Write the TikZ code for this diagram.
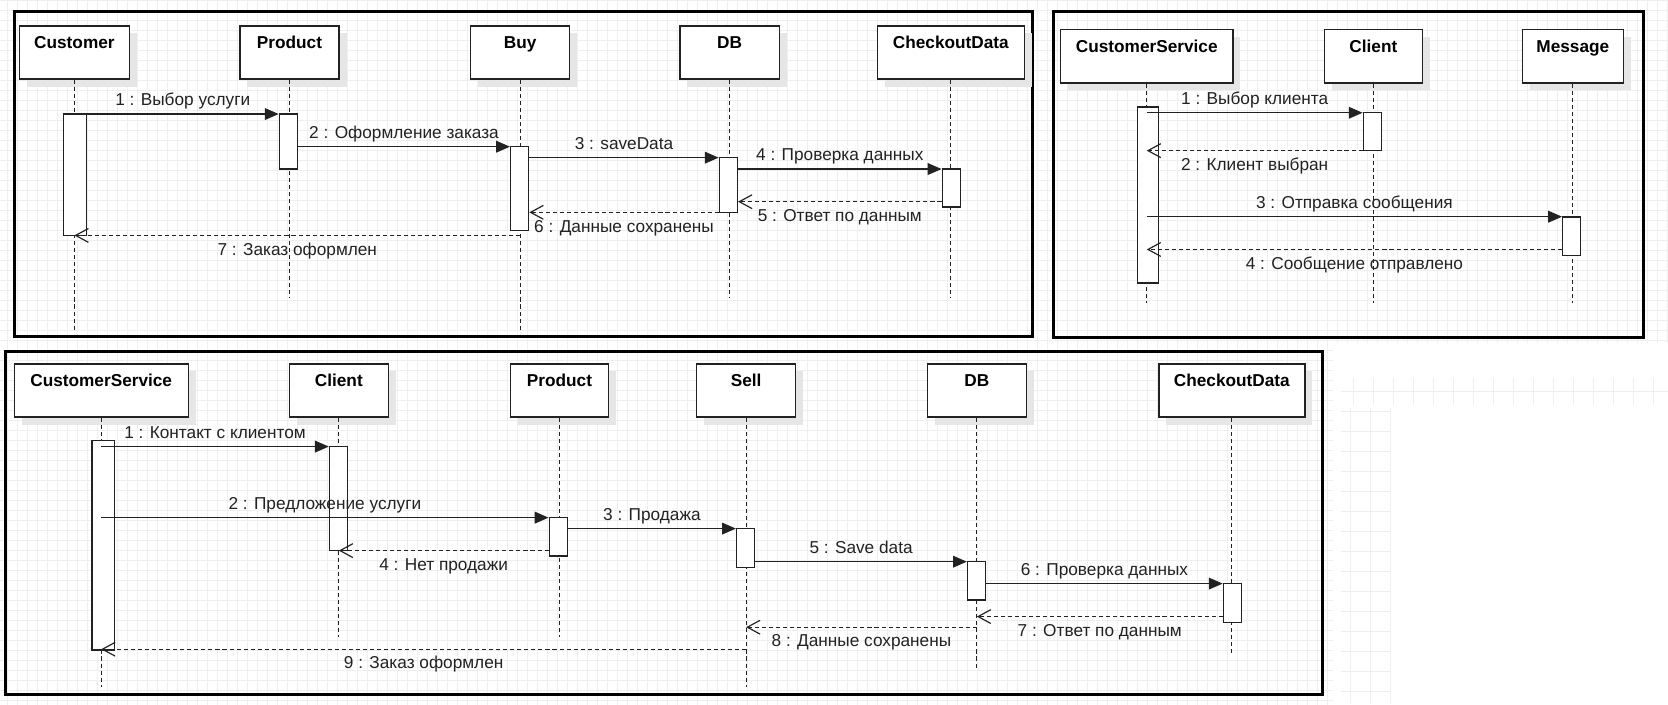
\documentclass[tikz,border=0pt]{standalone}
\usepackage{fontspec}
\setmainfont{Liberation Sans}
\usetikzlibrary{arrows.meta}
\definecolor{gridc}{HTML}{EFEFEF}
\definecolor{shadowc}{HTML}{E6E6E6}
\definecolor{ink}{HTML}{222222}
\begin{document}
\begin{tikzpicture}[x=1pt,y=-1pt,
  frame/.style={draw=black, line width=2.8pt},
  head/.style={draw=ink, line width=1.25pt, fill=white, inner sep=0pt, minimum height=50pt},
  title/.style={font=\fontsize{16.2}{19}\selectfont\bfseries, text=black, inner sep=0pt, anchor=base},
  act/.style={draw=ink, line width=1.25pt, fill=white, inner sep=0pt},
  life/.style={draw=ink, line width=1pt, dash pattern=on 3.8pt off 2.8pt},
  msg/.style={draw=ink, line width=1.25pt, -{Triangle[length=13pt,width=11pt]}},
  ret/.style={draw=ink, line width=1.1pt, dash pattern=on 3.8pt off 2.8pt, -{Straight Barb[length=12pt,width=13pt,line width=1.1pt]}},
  lbl/.style={font=\fontsize{16.2}{19}\selectfont, text=ink, inner sep=0pt, anchor=base},
  up/.style={lbl, midway, yshift=8pt},
  down/.style={lbl, midway, yshift=-18.5pt},
  gridline/.style={draw=gridc, line width=0.5pt},
]
\newcommand\lhead[6]{%
  \pgfmathsetmacro\hw{#3-#2}%
  \pgfmathsetmacro\hc{(#2+#3)/2}%
  \fill[shadowc] (#2+7,#4+7) rectangle (#3+7,#4+57);
  \node[head, minimum width=\hw pt] (#1) at (\hc,#4+25) {};
  \node[title] (#1-t) at (\hc,#4+21.6) {#5};
  \coordinate (#1-e) at (\hc,#6);
  \draw[life] (#1.south) -- (#1-e);
}
\newcommand\actb[5]{%
  \pgfmathsetmacro\ah{#4-#3}%
  \node[act, minimum width=#5pt, minimum height=\ah pt] (#1) at (#2,{(#3+#4)/2}) {};
}
\useasboundingbox (0,0) rectangle (1568,662);
\fill[white] (0,0) rectangle (1568,662);
% background grid
\begin{scope}
\clip (0,322) rectangle (1568,0);
\draw[gridline, step=9.4pt, xshift=7.3pt] (-10,330) grid (1568,0);
\end{scope}
\begin{scope}
\clip (0,662) rectangle (1253,322);
\draw[gridline, step=9.4pt, xshift=7.3pt] (-10,670) grid (1253,322);
\end{scope}
\foreach \gx in {1269,1288,1307} \draw[gridline] (\gx,384) -- (\gx,662);
\foreach \gy in {387,405.8,...,662} \draw[gridline] (1261,\gy) -- (1307,\gy);
\draw[gridline] (1261,367.6) -- (1568,367.6);
\foreach \gk in {0,...,15} \draw[gridline] (1272+18.8*\gk,355) -- (1272+18.8*\gk,381);
% frames
\draw[frame] (14,10.5) rectangle (970.8,316.5);
\draw[frame] (990,10.5) rectangle (1545,317.4);
\draw[frame] (5,330.5) rectangle (1242.9,653.3);

% ===== Frame 1 =====
\lhead{cu}{18.4}{121.5}{24.4}{Customer}{312}
\lhead{pr}{225.5}{318.8}{24.4}{Product}{280.4}
\lhead{bu}{442.5}{535.5}{24.4}{Buy}{312}
\lhead{db}{639.1}{732.5}{24.4}{DB}{280.4}
\lhead{co}{824.7}{963}{24.4}{CheckoutData}{280.4}
\actb{cu-a}{70.5}{107.2}{221.3}{21}
\actb{pr-a}{271.1}{107.2}{158.9}{17}
\actb{bu-a}{488.5}{137.9}{216.9}{17}
\actb{db-a}{684.7}{148.2}{199.6}{17}
\actb{co-a}{894.2}{158.9}{194.6}{17}
\draw[msg] (cu-a.east |- 0,107.2) -- (pr-a.west |- 0,107.2) node[up] {1 : Выбор услуги};
\draw[msg] (pr-a.east |- 0,137.9) -- (bu-a.west |- 0,137.9) node[up] {2 : Оформление заказа};
\draw[msg] (bu-a.east |- 0,148.2) -- (db-a.west |- 0,148.2) node[up] {3 : saveData};
\draw[msg] (db-a.east |- 0,158.9) -- (co-a.west |- 0,158.9) node[up] {4 : Проверка данных};
\draw[ret] (co-a.west |- 0,189.6) -- (db-a.east |- 0,189.6) node[down] {5 : Ответ по данным};
\draw[ret] (db-a.west |- 0,199.6) -- (bu-a.east |- 0,199.6) node[down] {6 : Данные сохранены};
\draw[ret] (bu.south |- 0,221.3) -- (cu.south |- 0,221.3) node[down] {7 : Заказ оформлен};

% ===== Frame 2 =====
\lhead{cs}{997}{1159}{28}{CustomerService}{285}
\lhead{cl}{1245}{1337}{28}{Client}{285}
\lhead{me}{1431}{1526}{28}{Message}{285}
\actb{cs-a}{1079}{100.5}{266}{20}
\actb{cl-a}{1290}{106}{141.6}{17}
\actb{me-a}{1477.5}{204}{240}{17}
\draw[msg] (cs.south |- 0,106) -- (cl-a.west |- 0,106) node[up] {1 : Выбор клиента};
\draw[ret] (cl-a.west |- 0,141.6) -- (cs.south |- 0,141.6) node[down] {2 : Клиент выбран};
\draw[msg] (cs.south |- 0,203.7) -- (me-a.west |- 0,203.7) node[up] {3 : Отправка сообщения};
\draw[ret] (me-a.west |- 0,234.5) -- (cs.south |- 0,234.5) node[down] {4 : Сообщение отправлено};

% ===== Frame 3 =====
\lhead{bcs}{13.4}{176.9}{342.1}{CustomerService}{645.4}
\lhead{bcl}{272}{365}{342.1}{Client}{598.4}
\lhead{bpr}{480}{571.8}{342.1}{Product}{598.4}
\lhead{bse}{654.8}{747.9}{342.1}{Sell}{645.4}
\lhead{bdb}{871.6}{964.9}{342.1}{DB}{627.9}
\lhead{bco}{1089.4}{1226.6}{342.1}{CheckoutData}{614}
\actb{bcs-a}{97}{414}{611}{20.8}
\actb{bcl-a}{318.2}{419.8}{517.6}{17}
\actb{bpr-a}{524.8}{486.6}{522.6}{17}
\actb{bse-a}{700.9}{496.9}{533.3}{17}
\actb{bdb-a}{918}{528}{564}{17}
\actb{bco-a}{1158.5}{548.6}{585}{17}
\draw[msg] (bcs.south |- 0,419.8) -- (bcl-a.west |- 0,419.8) node[up] {1 : Контакт с клиентом};
\draw[msg] (bcs.south |- 0,486.6) -- (bpr-a.west |- 0,486.6) node[up] {2 : Предложение услуги};
\draw[msg] (bpr-a.east |- 0,496.9) -- (bse-a.west |- 0,496.9) node[up] {3 : Продажа};
\draw[ret] (bpr-a.west |- 0,517.6) -- (bcl.south |- 0,517.6) node[down] {4 : Нет продажи};
\draw[msg] (bse-a.east |- 0,528) -- (bdb-a.west |- 0,528) node[up] {5 : Save data};
\draw[msg] (bdb-a.east |- 0,548.6) -- (bco-a.west |- 0,548.6) node[up] {6 : Проверка данных};
\draw[ret] (bco-a.west |- 0,579.6) -- (bdb.south |- 0,579.6) node[down] {7 : Ответ по данным};
\draw[ret] (bdb.south |- 0,589.6) -- (bse.south |- 0,589.6) node[down] {8 : Данные сохранены};
\draw[ret] (bse.south |- 0,610.3) -- (bcs.south |- 0,610.3) node[down] {9 : Заказ оформлен};
\end{tikzpicture}
\end{document}
